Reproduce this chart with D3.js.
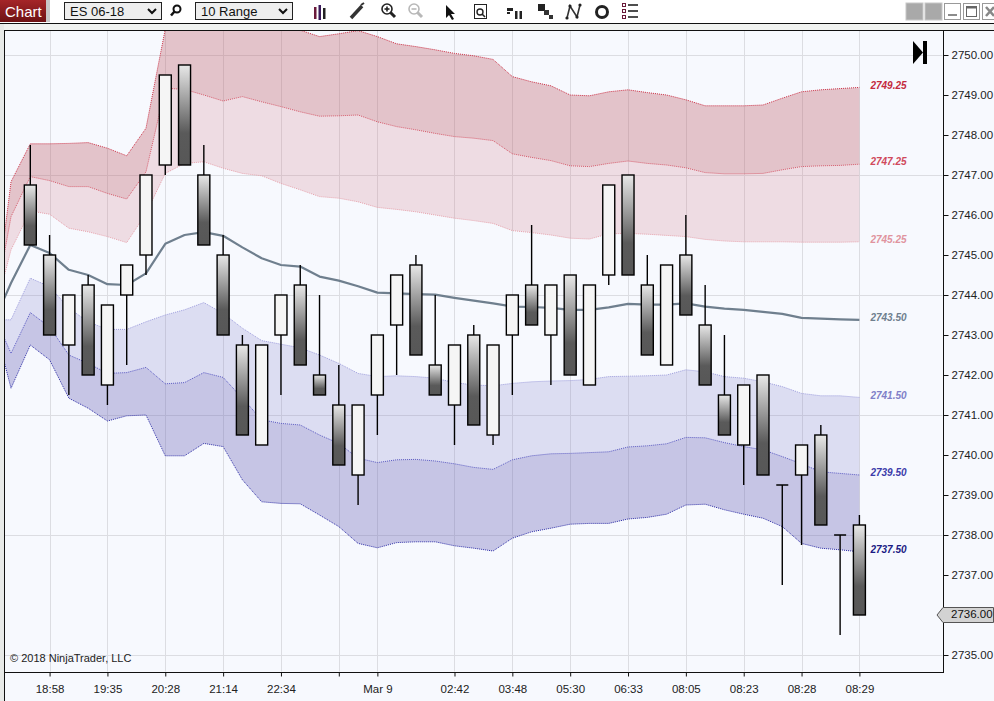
<!DOCTYPE html>
<html><head><meta charset="utf-8">
<script src="https://cdn.jsdelivr.net/npm/d3@7"></script>
<style>
html,body{margin:0;padding:0;background:#f7f9fe;overflow:hidden}
svg{display:block;font-family:"Liberation Sans",Arial,sans-serif}
</style></head><body>
<svg id="c" width="994" height="701"></svg>
<script>
// ---------------- DATA ----------------
// candles (10 Range bars), index 0..43
const openV  = [2746.75,2745,2742.75,2744.25,2741.75,2744,2745,2747.25,2749.75,2747,2745,2742.75,2740.25,2743,2744.25,2742,2741.25,2739.5,2741.5,2743.25,2744.75,2742.25,2741.25,2743,2740.5,2743,2744.25,2743,2744.5,2741.75,2744.5,2747,2744.25,2742.25,2745,2743.25,2741.5,2740.25,2742,2739.25,2739.5,2740.5,2738,2738.25];
const highV  = [2747.75,2745.5,2744,2744.5,2743.75,2744.75,2747,2749.5,2749.75,2747.75,2745.5,2743,2742.75,2744,2744.75,2744,2742.25,2741.25,2743,2744.5,2745,2744,2742.75,2743.25,2742.75,2744,2745.75,2744.25,2744.5,2744.25,2746.75,2747,2745,2744.75,2746,2744.25,2743,2741.75,2742,2739.25,2740.25,2740.75,2738,2738.5];
const lowV   = [2745.25,2743,2741.5,2742,2741.25,2742.25,2744.5,2747,2747.25,2745.25,2743,2740.5,2740.25,2741.5,2742.25,2741.5,2739.75,2738.75,2740.5,2742,2742.5,2741.5,2740.25,2740.75,2740.25,2741.5,2743.25,2741.75,2742,2741.75,2744.25,2744.5,2742.5,2742.25,2743.5,2741.75,2740.5,2739.25,2739.5,2736.75,2737.75,2738.25,2735.5,2736];
const closeV = [2745.25,2743,2744,2742,2743.75,2744.75,2747,2749.5,2747.25,2745.25,2743,2740.5,2742.75,2744,2742.25,2741.5,2739.75,2741.25,2743,2744.5,2742.5,2741.5,2742.75,2740.75,2742.75,2744,2743.25,2744.25,2742,2744.25,2746.75,2744.5,2742.5,2744.75,2743.5,2741.75,2740.5,2741.75,2739.5,2739.25,2740.25,2738.25,2738,2736];

// indicator plots, bar index -2..43
const bandStart = -2;
const upper3 = [2742.98,2746.83,2747.78,2747.78,2747.79,2747.81,2747.67,2747.48,2748.17,2750.65,2751.1,2751.25,2751.2,2751.05,2750.9,2750.75,2750.62,2750.46,2750.53,2750.61,2750.46,2750.28,2750.21,2750.13,2750.04,2749.98,2749.89,2749.46,2749.33,2749.23,2749.0,2748.98,2749.08,2749.13,2749.06,2749.0,2748.88,2748.73,2748.73,2748.73,2748.75,2748.92,2749.08,2749.13,2749.16,2749.19];
const upper2 = [2743.3,2745.96,2746.96,2746.86,2746.71,2746.71,2746.54,2746.4,2747.08,2749.17,2749.14,2749.0,2748.85,2748.96,2748.83,2748.71,2748.58,2748.47,2748.48,2748.5,2748.33,2748.21,2748.13,2748.04,2747.96,2747.92,2747.86,2747.53,2747.44,2747.36,2747.23,2747.21,2747.29,2747.35,2747.29,2747.25,2747.18,2747.06,2747.03,2747.03,2747.04,2747.13,2747.21,2747.23,2747.24,2747.27];
const upper1 = [2743.27,2745.13,2746.1,2746.02,2745.67,2745.58,2745.46,2745.31,2746.04,2747.04,2747.29,2747.33,2747.17,2747.04,2746.98,2746.79,2746.63,2746.46,2746.42,2746.33,2746.19,2746.14,2746.08,2746.0,2745.92,2745.86,2745.79,2745.61,2745.56,2745.5,2745.42,2745.4,2745.53,2745.54,2745.52,2745.49,2745.46,2745.39,2745.35,2745.33,2745.33,2745.33,2745.32,2745.32,2745.32,2745.33];
const middle = [2743.21,2744.3,2745.25,2745.05,2744.63,2744.5,2744.27,2744.25,2744.54,2745.28,2745.5,2745.57,2745.48,2745.19,2744.92,2744.75,2744.71,2744.46,2744.36,2744.22,2744.06,2744.04,2744.02,2744.01,2743.93,2743.86,2743.79,2743.71,2743.7,2743.68,2743.63,2743.63,2743.69,2743.78,2743.76,2743.76,2743.79,2743.71,2743.66,2743.63,2743.58,2743.53,2743.43,2743.41,2743.39,2743.38];
const lower1 = [2743.38,2743.38,2744.42,2744.21,2743.67,2743.33,2743.14,2743.14,2743.33,2743.5,2743.63,2743.81,2743.54,2743.17,2742.86,2742.77,2742.68,2742.5,2742.29,2742.04,2741.96,2741.98,2741.96,2741.92,2741.81,2741.75,2741.73,2741.79,2741.83,2741.85,2741.86,2741.89,2741.96,2741.97,2741.98,2742.0,2742.13,2742.08,2741.96,2741.92,2741.83,2741.71,2741.54,2741.48,2741.48,2741.44];
const lower2 = [2743.63,2742.54,2743.56,2743.2,2742.5,2742.29,2742.04,2742.06,2742.19,2741.78,2741.81,2742.06,2741.94,2741.42,2740.88,2740.79,2740.75,2740.5,2740.29,2739.92,2739.81,2739.88,2739.89,2739.85,2739.78,2739.69,2739.64,2739.88,2739.98,2740.03,2740.04,2740.06,2740.08,2740.2,2740.23,2740.28,2740.44,2740.43,2740.31,2740.21,2740.13,2739.96,2739.78,2739.58,2739.54,2739.5];
const lower3 = [2743.53,2741.67,2742.75,2742.38,2741.42,2741.17,2740.85,2740.98,2741.0,2739.98,2739.98,2740.29,2740.21,2739.38,2738.83,2738.79,2738.78,2738.5,2738.21,2737.79,2737.68,2737.81,2737.83,2737.83,2737.73,2737.67,2737.6,2737.92,2738.08,2738.17,2738.27,2738.29,2738.29,2738.4,2738.44,2738.52,2738.75,2738.77,2738.63,2738.52,2738.42,2738.21,2737.79,2737.67,2737.63,2737.58];
const endLabels = ["2749.25","2747.25","2745.25","2743.50","2741.50","2739.50","2737.50"];

const xTickBars = [1,4,7,10,13,16,18,22,25,28,31,34,37,40,43];
const xTickLabels = ["18:58","19:35","20:28","21:14","22:34","","Mar 9","02:42","03:48","05:30","06:33","08:05","08:23","08:28","08:29"];
const yTicks = d3.range(2735, 2751, 1);
const yGrid = [2735,2738,2741,2744,2747,2750];
const lastPrice = 2736.00;

// ---------------- LAYOUT ----------------
const svg = d3.select("#c");
const W = 994, H = 701;
const PL = 4, PT = 30, PR = 943, PB = 672;
const x = d3.scaleLinear().domain([0, 43]).range([30.3, 859.4]);
const y = d3.scaleLinear().domain([2735, 2750]).range([655, 55]);

const defs = svg.append("defs");
defs.append("clipPath").attr("id","plotclip").append("rect")
  .attr("x",PL+0.5).attr("y",PT+0.5).attr("width",PR-PL-1).attr("height",PB-PT-1);
const g1 = defs.append("linearGradient").attr("id","downGrad").attr("x1",0).attr("y1",0).attr("x2",0).attr("y2",1);
g1.append("stop").attr("offset","0%").attr("stop-color","#e8e8e8");
g1.append("stop").attr("offset","68%").attr("stop-color","#5a5a5a");
g1.append("stop").attr("offset","100%").attr("stop-color","#575757");
const g2 = defs.append("linearGradient").attr("id","tabGrad").attr("x1",0).attr("y1",0).attr("x2",0).attr("y2",1);
g2.append("stop").attr("offset","0%").attr("stop-color","#a52528");
g2.append("stop").attr("offset","100%").attr("stop-color","#6e1214");

// backgrounds
svg.append("rect").attr("x",0).attr("y",0).attr("width",W).attr("height",H).attr("fill","#f7f9fe");
svg.append("rect").attr("x",0).attr("y",0).attr("width",W).attr("height",23).attr("fill","#ffffff");
svg.append("rect").attr("x",0).attr("y",23).attr("width",W).attr("height",7).attr("fill","#f0f2f0");
svg.append("rect").attr("x",0).attr("y",23).attr("width",PL).attr("height",H-23).attr("fill","#e8eae8");

// ---------------- TOOLBAR ----------------
const tb = svg.append("g");
tb.append("rect").attr("x",0).attr("y",0).attr("width",46).attr("height",22).attr("fill","url(#tabGrad)");
tb.append("rect").attr("x",46).attr("y",0).attr("width",4).attr("height",22).attr("fill","#c8c8c8");
tb.append("text").attr("x",5).attr("y",17).attr("fill","#fff").attr("font-size",15).text("Chart");
function dropdown(x0, label){
  tb.append("rect").attr("x",x0+0.5).attr("y",2.5).attr("width",97).attr("height",17)
    .attr("fill","#eeeeee").attr("stroke","#222").attr("stroke-width",1);
  tb.append("text").attr("x",x0+6).attr("y",16).attr("font-size",13).attr("fill","#111").text(label);
  tb.append("path").attr("d",`M${x0+84},9 L${x0+88},13 L${x0+92},9`).attr("fill","none")
    .attr("stroke","#111").attr("stroke-width",2);
}
dropdown(64,"ES 06-18");
dropdown(195,"10 Range");
// search icon
tb.append("circle").attr("cx",177).attr("cy",9).attr("r",3.5).attr("fill","none").attr("stroke","#111").attr("stroke-width",2);
tb.append("line").attr("x1",174.5).attr("y1",11.5).attr("x2",171).attr("y2",15.5).attr("stroke","#111").attr("stroke-width",2.5);
// bars icon
[[314,7,12,"#6a1a3a"],[318.5,5,15,"#3a1a5a"],[323,8,11,"#222"]].forEach(d=>{
  tb.append("rect").attr("x",d[0]).attr("y",d[1]).attr("width",2.5).attr("height",d[2]).attr("fill",d[3]);
});
// pencil
tb.append("line").attr("x1",351).attr("y1",18).attr("x2",362).attr("y2",6).attr("stroke","#333").attr("stroke-width",3.5);
tb.append("line").attr("x1",361).attr("y1",5).attr("x2",364).attr("y2",3).attr("stroke","#333").attr("stroke-width",2);
// zoom in / out
function zoomIcon(cx, col, plus){
  tb.append("circle").attr("cx",cx).attr("cy",9).attr("r",5).attr("fill","none").attr("stroke",col).attr("stroke-width",1.6);
  tb.append("line").attr("x1",cx+3.5).attr("y1",12.5).attr("x2",cx+8).attr("y2",17).attr("stroke",col).attr("stroke-width",3);
  tb.append("line").attr("x1",cx-2.5).attr("y1",9).attr("x2",cx+2.5).attr("y2",9).attr("stroke",col).attr("stroke-width",1.6);
  if(plus) tb.append("line").attr("x1",cx).attr("y1",6.5).attr("x2",cx).attr("y2",11.5).attr("stroke",col).attr("stroke-width",1.6);
}
zoomIcon(387,"#222",true);
zoomIcon(414,"#b8b8b8",false);
// cursor
tb.append("path").attr("d","M446,5 L446,18 L449,15 L452,20 L454,19 L451,14 L455,14 Z").attr("fill","#111");
// document search
tb.append("rect").attr("x",474.5).attr("y",4.5).attr("width",12).attr("height",14).attr("fill","#fff").attr("stroke","#222");
tb.append("circle").attr("cx",480).attr("cy",12).attr("r",3).attr("fill","none").attr("stroke","#222").attr("stroke-width",1.4);
tb.append("line").attr("x1",482).attr("y1",14).attr("x2",485).attr("y2",17).attr("stroke","#222").attr("stroke-width",1.6);
// data box icon
tb.append("rect").attr("x",507).attr("y",8).attr("width",6).attr("height",3).attr("fill","#222");
tb.append("rect").attr("x",515).attr("y",11).attr("width",2.5).attr("height",8).attr("fill","#222");
tb.append("rect").attr("x",519.5).attr("y",11).attr("width",2.5).attr("height",8).attr("fill","#222");
tb.append("rect").attr("x",507).attr("y",12).attr("width",3).attr("height",2).attr("fill","#222");
// blocks icon
tb.append("rect").attr("x",538).attr("y",4).attr("width",7).attr("height",7).attr("fill","#222");
tb.append("rect").attr("x",544).attr("y",10).attr("width",5).attr("height",5).attr("fill","#333");
tb.append("rect").attr("x",549).attr("y",15).attr("width",4).attr("height",4).attr("fill","#333");
// N icon
tb.append("path").attr("d","M567,18 L570,6 L577,17 L580,5").attr("fill","none").attr("stroke","#333").attr("stroke-width",1.6);
[[567,18],[570,6],[577,17],[580,5]].forEach(p=>tb.append("circle").attr("cx",p[0]).attr("cy",p[1]).attr("r",1.6).attr("fill","#222"));
// circle icon
tb.append("circle").attr("cx",602).attr("cy",12).attr("r",5.5).attr("fill","none").attr("stroke","#222").attr("stroke-width",3);
// list icon
[5,11,17].forEach(yy=>{
  tb.append("rect").attr("x",622.5).attr("y",yy-1.5).attr("width",3).attr("height",3).attr("fill","none").attr("stroke","#6a1a3a").attr("stroke-width",1);
  tb.append("line").attr("x1",628).attr("y1",yy).attr("x2",638).attr("y2",yy).attr("stroke","#222").attr("stroke-width",1.6);
});
// window buttons
[906,925].forEach(xx=>tb.append("rect").attr("x",xx).attr("y",3).attr("width",17).attr("height",17).attr("fill","#a9a9a9").attr("stroke","#c8c8c8"));
tb.append("rect").attr("x",944.5).attr("y",3.5).attr("width",16).attr("height",16).attr("fill","#fff").attr("stroke","#999");
tb.append("line").attr("x1",948).attr("y1",15).attr("x2",957).attr("y2",15).attr("stroke","#666").attr("stroke-width",1.5);
tb.append("rect").attr("x",963.5).attr("y",3.5).attr("width",16).attr("height",16).attr("fill","#fff").attr("stroke","#999");
tb.append("rect").attr("x",966.5).attr("y",6.5).attr("width",10).attr("height",10).attr("fill","none").attr("stroke","#666").attr("stroke-width",1);
tb.append("line").attr("x1",966.5).attr("y1",7.5).attr("x2",976.5).attr("y2",7.5).attr("stroke","#666").attr("stroke-width",2);
tb.append("rect").attr("x",982.5).attr("y",3.5).attr("width",16).attr("height",16).attr("fill","#fff").attr("stroke","#999");
tb.append("path").attr("d","M986,7 L994,16 M994,7 L986,16").attr("stroke","#888").attr("stroke-width",2.5);
svg.append("line").attr("x1",0).attr("y1",23.5).attr("x2",W).attr("y2",23.5).attr("stroke","#111").attr("stroke-width",1);

// ---------------- GRID ----------------
const grid = svg.append("g").attr("clip-path","url(#plotclip)");
grid.selectAll(".hg").data(yGrid).join("line")
  .attr("x1",PL).attr("x2",PR).attr("y1",d=>Math.round(y(d))+0.5).attr("y2",d=>Math.round(y(d))+0.5)
  .attr("stroke","#dcdde2").attr("stroke-width",1);
grid.selectAll(".vg").data(xTickBars).join("line")
  .attr("y1",PT).attr("y2",PB).attr("x1",d=>Math.round(x(d))+0.5).attr("x2",d=>Math.round(x(d))+0.5)
  .attr("stroke","#dcdde2").attr("stroke-width",1);

// ---------------- BANDS ----------------
const plot = svg.append("g").attr("clip-path","url(#plotclip)");
const bi = d3.range(bandStart, 44);
function area(a, b, fill){
  const gen = d3.area().x((d,i)=>x(bi[i])).y0((d,i)=>y(b[i])).y1((d,i)=>y(a[i]));
  plot.append("path").attr("d",gen(a)).attr("fill",fill).attr("stroke","none");
}
area(upper3, upper2, "rgba(190,100,110,0.36)");
area(upper2, upper1, "rgba(207,114,126,0.21)");
area(lower1, lower2, "rgba(122,119,199,0.21)");
area(lower2, lower3, "rgba(110,106,185,0.36)");
function plotLine(vals, col, w, dash){
  const gen = d3.line().x((d,i)=>x(bi[i])).y(d=>y(d));
  const p = plot.append("path").attr("d",gen(vals)).attr("fill","none").attr("stroke",col).attr("stroke-width",w).attr("stroke-linejoin","round");
  if(dash) p.attr("stroke-dasharray",dash);
}
plotLine(upper3,"#cc3347",1,"1,1");
plotLine(upper2,"#d55a6a",1,"1,1");
plotLine(upper1,"#e6a2ab",1,"1,1");
plotLine(lower1,"#9d9ddc",1,"1,1");
plotLine(lower2,"#5a5ac2",1,"1,1");
plotLine(lower3,"#2e2ea6",1,"1,1");
plotLine(middle,"#6f7f8e",2.2,null);

// ---------------- CANDLES ----------------
const cd = d3.range(0,44).map(i=>({i, o:openV[i], h:highV[i], l:lowV[i], c:closeV[i]}));
const bw = 12;
const cg = plot.append("g");
cg.selectAll(".wick").data(cd).join("line")
  .attr("x1",d=>x(d.i)).attr("x2",d=>x(d.i))
  .attr("y1",d=>y(d.h)).attr("y2",d=>y(d.l))
  .attr("stroke","#000").attr("stroke-width",1.4);
cg.selectAll(".body").data(cd.filter(d=>d.o!==d.c)).join("rect")
  .attr("x",d=>x(d.i)-bw/2).attr("width",bw)
  .attr("y",d=>y(Math.max(d.o,d.c))).attr("height",d=>Math.abs(y(d.o)-y(d.c)))
  .attr("fill",d=>d.c>d.o ? "#f5f5f5" : "url(#downGrad)")
  .attr("stroke","#000").attr("stroke-width",1.4);
cg.selectAll(".doji").data(cd.filter(d=>d.o===d.c)).join("line")
  .attr("x1",d=>x(d.i)-bw/2).attr("x2",d=>x(d.i)+bw/2)
  .attr("y1",d=>y(d.o)).attr("y2",d=>y(d.o))
  .attr("stroke","#000").attr("stroke-width",1.4);

// ---------------- END LABELS ----------------
const lastVals = [upper3,upper2,upper1,middle,lower1,lower2,lower3].map(a=>a[a.length-1]);
const labCols = ["#c42a3e","#d04a5c","#e0949e","#6f7f8e","#8080c8","#3c3caa","#1c1c84"];
svg.append("g").selectAll("text").data(lastVals).join("text")
  .attr("x",x(43)+11).attr("y",d=>y(d)-1.5).attr("dominant-baseline","middle")
  .attr("font-size",10).attr("font-weight","bold").attr("font-style","italic")
  .attr("fill",(d,i)=>labCols[i]).text((d,i)=>endLabels[i]);

// ---------------- AXES ----------------
const yAxis = d3.axisRight(y).tickValues(yTicks).tickFormat(d=>d.toFixed(2)).tickSize(5).tickPadding(3);
const ya = svg.append("g").attr("transform",`translate(${PR+0.5},0)`).call(yAxis);
ya.select(".domain").remove();
ya.selectAll("line").attr("stroke","#111");
ya.selectAll("text").attr("font-size",11.5).attr("fill","#222").attr("font-family","Liberation Sans, Arial, sans-serif");

const xAxis = d3.axisBottom(x).tickValues(xTickBars).tickFormat((d,i)=>xTickLabels[i]).tickSize(4).tickPadding(8);
const xa = svg.append("g").attr("transform",`translate(0,${PB+0.5})`).call(xAxis);
xa.select(".domain").remove();
xa.selectAll("line").attr("stroke","#111");
xa.selectAll("text").attr("font-size",11.5).attr("fill","#222").attr("font-family","Liberation Sans, Arial, sans-serif");

// frame lines
svg.append("line").attr("x1",PL).attr("x2",W).attr("y1",PT+0.5).attr("y2",PT+0.5).attr("stroke","#111");
svg.append("line").attr("x1",PL+0.5).attr("x2",PL+0.5).attr("y1",PT).attr("y2",H).attr("stroke","#111");
svg.append("line").attr("x1",PR+0.5).attr("x2",PR+0.5).attr("y1",PT).attr("y2",PB+0.5).attr("stroke","#111");
svg.append("line").attr("x1",PL).attr("x2",PR+1).attr("y1",PB+0.5).attr("y2",PB+0.5).attr("stroke","#111");

// last price marker
const ly = y(lastPrice);
svg.append("path").attr("d",`M${PR-6},${ly} L${PR},${ly-7.5} L993.5,${ly-7.5} L993.5,${ly+7.5} L${PR},${ly+7.5} Z`)
  .attr("fill","#d3d3d3").attr("stroke","#555").attr("stroke-width",1);
svg.append("text").attr("x",PR+8).attr("y",ly).attr("dominant-baseline","middle")
  .attr("font-size",11.5).attr("fill","#111").text(lastPrice.toFixed(2));

// go-to-end icon
svg.append("path").attr("d","M913,41 L923,52.5 L913,64 Z").attr("fill","#000");
svg.append("rect").attr("x",923).attr("y",41).attr("width",4).attr("height",23).attr("fill","#000");

// copyright
svg.append("text").attr("x",10).attr("y",662).attr("font-size",11).attr("fill","#222").text("© 2018 NinjaTrader, LLC");
</script>
</body></html>
